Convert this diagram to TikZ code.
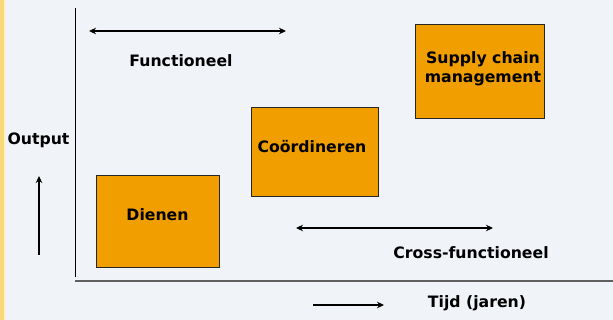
\documentclass[tikz,border=0pt]{standalone}
\usepackage{fontspec}
\setmainfont{DejaVu Sans}
\usetikzlibrary{arrows.meta}
\definecolor{bg}{HTML}{F0F4F8}
\definecolor{boxfill}{HTML}{F09E00}
\definecolor{stripe}{HTML}{F9D97A}
\definecolor{axisgray}{HTML}{606060}
\tikzset{
  lbl/.style={font=\fontsize{15.7}{19}\selectfont\bfseries, inner sep=0pt, align=center},
  blk/.style={draw=black!85, line width=0.9pt, fill=boxfill, inner sep=0pt, anchor=north west},
  arr/.style={line width=1.6pt, -{Stealth[length=7pt,width=6.5pt]}},
  darr/.style={line width=1.6pt, {Stealth[length=7pt,width=6.5pt]}-{Stealth[length=7pt,width=6.5pt]}}
}
\begin{document}
\begin{tikzpicture}[x=1pt,y=-1pt]
\useasboundingbox (0,0) rectangle (613,320);
\fill[bg] (0,0) rectangle (613,320);
\fill[stripe] (0,0) rectangle (3.5,320);
\fill[stripe!40] (3.5,0) rectangle (5.5,320);
% axes
\coordinate (ytop) at (75,8);
\coordinate (ybot) at (75,277);
\coordinate (xl) at (75,281);
\coordinate (xr) at (613,281);
\draw[line width=1pt, black] (ytop) -- (ybot);
\draw[line width=1.6pt, axisgray] (xl) -- (xr);
% boxes
\node[blk, minimum width=123pt, minimum height=92pt] (dienen) at (96,175) {};
\node[lbl] at (157.5,215) {Dienen};
\node[blk, minimum width=127pt, minimum height=89pt] (coord) at (251,107) {};
\node[lbl] at (312,147) {Coördineren};
\node[blk, minimum width=129pt, minimum height=94pt] (scm) at (415,24) {};
\node[lbl] at (483,69) {Supply chain\\management};
% arrows
\coordinate (f1) at (89,31);
\coordinate (f2) at (286,31);
\draw[darr] (f1) -- (f2);
\node[lbl] (func) at (181,61) {Functioneel};
\coordinate (c1) at (296,228);
\coordinate (c2) at (493,228);
\draw[darr] (c1) -- (c2);
\node[lbl] (cross) at (471,253) {Cross-functioneel};
\coordinate (o1) at (39,255);
\coordinate (o2) at (39,176);
\draw[arr] (o1) -- (o2);
\node[lbl] (out) at (38.5,140) {Output};
\coordinate (t1) at (313,305);
\coordinate (t2) at (384,305);
\draw[arr] (t1) -- (t2);
\node[lbl] (tijd) at (477,303) {Tijd (jaren)};
\end{tikzpicture}
\end{document}
